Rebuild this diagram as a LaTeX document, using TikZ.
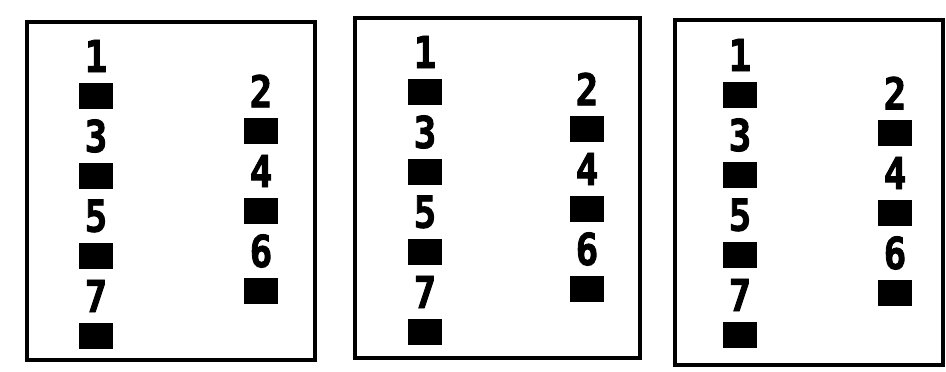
\documentclass[tikz,border=0pt]{standalone}
\usepackage{fontspec}
\newfontfamily\digitfont[FakeStretch=0.85, FakeBold=2]{DejaVu Sans Mono}
\usetikzlibrary{positioning}

\begin{document}
\begin{tikzpicture}[x=0.2mm, y=-0.2mm,
    panel/.style={draw, line width=#1},
    num/.style={inner sep=0pt, font=\digitfont\bfseries\fontsize{25}{25}\selectfont},
    pin/.style={fill=black, inner sep=0pt, minimum width=6.8mm, minimum height=5.2mm}]
  \useasboundingbox (0,0) rectangle (946,371);
  \foreach \p/\xa/\xb/\ya/\yb/\lw/\lx/\rx/\ly/\ry in
      {a/27/315/22/360/2.2pt/96/261/56/91,
       b/355/640/18/358/2.1pt/425/587/52/89,
       c/675/943/20/365/2.8pt/740/895/55/93}{
    \draw[panel=\lw] (\xa,\ya) rectangle (\xb,\yb);
    % left column: odd numbers
    \foreach \n [count=\i from 0] in {1,3,5,7}{
      \node[num] (\p-n\n) at (\lx,\ly+80*\i) {\n};
      \node[pin] (\p-s\n) at (\lx,\ly+40+80*\i) {};
    }
    % right column: even numbers
    \foreach \n [count=\i from 0] in {2,4,6}{
      \node[num] (\p-n\n) at (\rx,\ry+80*\i) {\n};
      \node[pin] (\p-s\n) at (\rx,\ry+40+80*\i) {};
    }
  }
\end{tikzpicture}
\end{document}
